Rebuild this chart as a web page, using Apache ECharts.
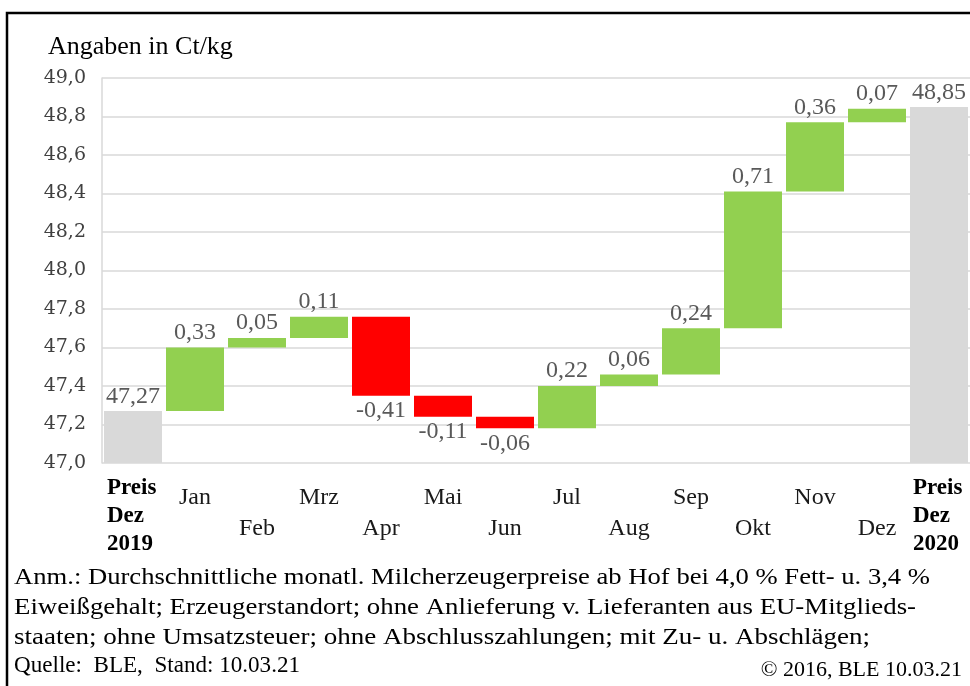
<!DOCTYPE html>
<html>
<head>
<meta charset="utf-8">
<script src="https://cdn.jsdelivr.net/npm/echarts@6/dist/echarts.min.js"></script>
<style>
    html, body { margin: 0; padding: 0; background: #fff; }
    #chart { width: 970px; height: 686px; }
</style>
</head>
<body>
<div id="chart"></div>
<script>
    // Milcherzeugerpreise 2019 -> 2020 (Ct/kg)
    var categories = ['Preis\nDez\n2019', 'Jan', 'Feb', 'Mrz', 'Apr', 'Mai', 'Jun', 'Jul', 'Aug', 'Sep', 'Okt', 'Nov', 'Dez', 'Preis\nDez\n2020'];
    var startPrice = 47.27;
    var monthlyChange = [0.33, 0.05, 0.11, -0.41, -0.11, -0.06, 0.22, 0.06, 0.24, 0.71, 0.36, 0.07];
    var endPrice = 48.85;
    var yRange = [47.0, 49.0];
    var yStep = 0.2;

    var noteLines = [
        'Anm.: Durchschnittliche monatl. Milcherzeugerpreise ab Hof bei 4,0 % Fett- u. 3,4 %',
        'Eiweißgehalt; Erzeugerstandort; ohne Anlieferung v. Lieferanten aus EU-Mitglieds-',
        'staaten; ohne Umsatzsteuer; ohne Abschlusszahlungen; mit Zu- u. Abschlägen;',
        'Quelle:  BLE,  Stand: 10.03.21'
    ];
    var copyright = '© 2016, BLE 10.03.21';

    function comma(v, d) {
        return v.toFixed(d).replace('.', ',');
    }

    // waterfall stacks: invisible base + up / down / total
    var base = [0], up = ['-'], down = ['-'], total = [startPrice];
    var level = startPrice;
    monthlyChange.forEach(function (c) {
        var next = Math.round((level + c) * 100) / 100;
        if (c >= 0) {
            base.push(level);
            up.push(c);
            down.push('-');
        } else {
            base.push(next);
            up.push('-');
            down.push(-c);
        }
        total.push('-');
        level = next;
    });
    base.push(0);
    up.push('-');
    down.push('-');
    total.push(endPrice);

    var chart = echarts.init(document.getElementById('chart'));

    var ctx = document.createElement('canvas').getContext('2d');
    var noteFont = '23px "Liberation Serif"';
    ctx.font = noteFont;
    var noteWidths = [916, 902, 856, 286];
    var noteY = [578, 608, 638, 666];

    var graphics = [{
        type: 'rect',
        shape: {x: 7, y: 13, width: 1000, height: 700},
        style: {fill: 'none', stroke: '#000', lineWidth: 2.5}
    }, {
        type: 'text',
        x: 48, y: 47,
        style: {text: 'Angaben in Ct/kg', font: '26px "Liberation Serif"', fill: '#000', textAlign: 'left', textVerticalAlign: 'middle'}
    }];
    noteLines.forEach(function (t, i) {
        var w = ctx.measureText(t).width;
        graphics.push({
            type: 'text',
            x: 14, y: noteY[i],
            scaleX: noteWidths[i] / w,
            style: {text: t, font: noteFont, fill: '#000', textAlign: 'left', textVerticalAlign: 'middle'}
        });
    });
    graphics.push({
        type: 'text',
        x: 962, y: 670,
        style: {text: copyright, font: '22px "Liberation Serif"', fill: '#000', textAlign: 'right', textVerticalAlign: 'middle'}
    });

    var labelFont = {
        fontFamily: '"Liberation Serif", serif',
        fontSize: 24,
        color: '#595959'
    };

    var option = {
        animation: false,
        grid: {
            left: 102,
            top: 78,
            width: 868,
            height: 385
        },
        xAxis: {
            type: 'category',
            data: categories,
            axisLine: {show: false},
            axisTick: {show: false},
            axisLabel: {
                interval: 0,
                margin: 11,
                formatter: function (value, index) {
                    if (value.indexOf('\n') >= 0) {
                        return value.split('\n').map(function (s) {
                            return '{b|' + s + '}';
                        }).join('\n');
                    }
                    if (index % 2 == 1) {
                        return '{s| }\n{a|' + value + '}';
                    }
                    return '{s| }\n{a| }\n{a|' + value + '}';
                },
                rich: {
                    b: {
                        fontFamily: '"Liberation Serif", serif',
                        fontSize: 23,
                        fontWeight: 'bold',
                        color: '#000',
                        lineHeight: 28,
                        width: 52,
                        align: 'left'
                    },
                    a: {
                        fontFamily: '"Liberation Serif", serif',
                        fontSize: 24,
                        color: '#1a1a1a',
                        lineHeight: 31
                    },
                    s: {
                        fontSize: 1,
                        lineHeight: 8
                    }
                }
            }
        },
        yAxis: {
            type: 'value',
            min: yRange[0],
            max: yRange[1],
            interval: yStep,
            axisLine: {show: true, lineStyle: {color: '#d9d9d9', width: 1.5}},
            axisTick: {show: false},
            splitLine: {lineStyle: {color: '#d9d9d9', width: 1.5}},
            axisLabel: {
                margin: 16,
                fontFamily: '"DejaVu Serif", serif',
                fontSize: 19,
                color: '#404040',
                formatter: function (v) {
                    return comma(v, 1);
                }
            }
        },
        series: [{
            name: 'base',
            type: 'bar',
            stack: 'w',
            barWidth: 58,
            itemStyle: {color: 'rgba(0,0,0,0)'},
            emphasis: {disabled: true},
            data: base
        }, {
            name: 'Anstieg',
            type: 'bar',
            stack: 'w',
            itemStyle: {color: '#92d050'},
            label: Object.assign({
                show: true,
                position: 'top',
                distance: 3,
                formatter: function (p) {
                    return comma(p.value, 2);
                }
            }, labelFont),
            data: up
        }, {
            name: 'Rückgang',
            type: 'bar',
            stack: 'w',
            itemStyle: {color: '#ff0000'},
            label: Object.assign({
                show: true,
                position: 'bottom',
                distance: 3,
                formatter: function (p) {
                    return comma(-p.value, 2);
                }
            }, labelFont),
            data: down
        }, {
            name: 'Preis',
            type: 'bar',
            stack: 'w',
            itemStyle: {color: '#d9d9d9'},
            label: Object.assign({
                show: true,
                position: 'top',
                distance: 2,
                formatter: function (p) {
                    return comma(p.value, 2);
                }
            }, labelFont),
            data: total
        }],
        graphic: graphics
    };

    chart.setOption(option);
</script>
</body>
</html>
